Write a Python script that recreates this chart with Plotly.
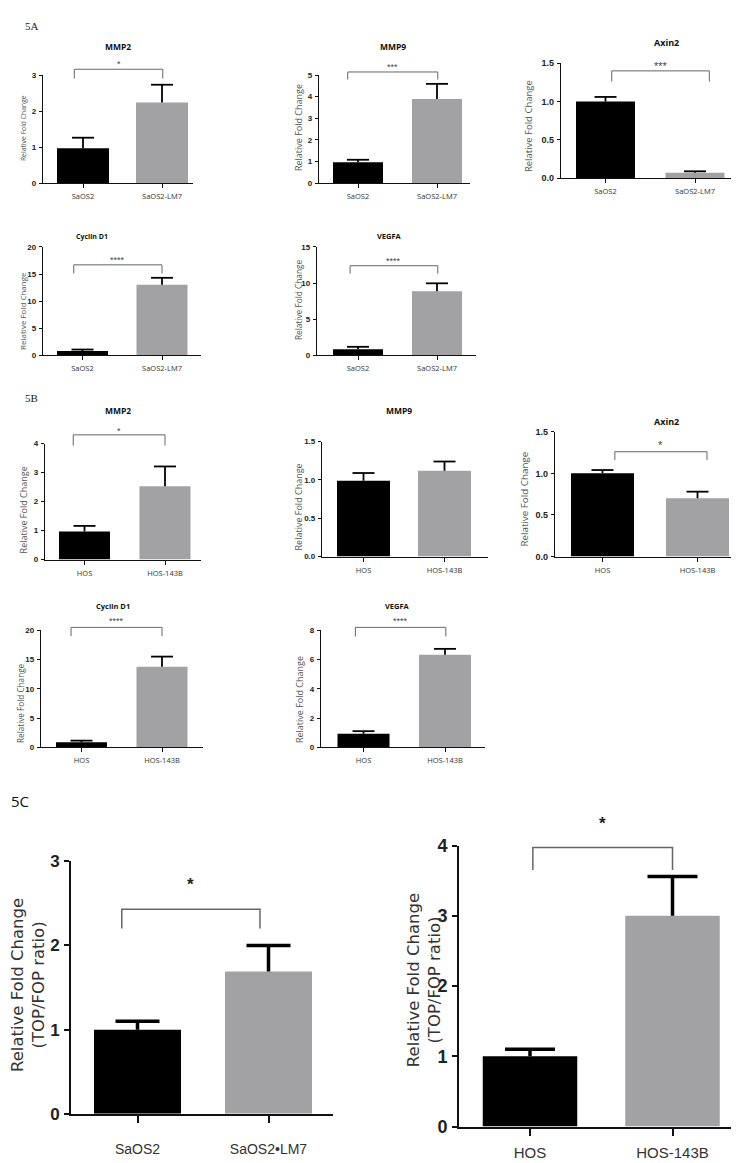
import plotly.graph_objects as go

W, H = 739, 1163

# ---------------- data ----------------
cells_a = ["SaOS2", "SaOS2-LM7"]
cells_b = ["HOS", "HOS-143B"]
genes = ["MMP2", "MMP9", "Axin2", "Cyclin D1", "VEGFA"]

a_mmp2_mean = [0.97, 2.24]
a_mmp2_sem = [0.29, 0.49]
a_mmp9_mean = [0.96, 3.89]
a_mmp9_sem = [0.12, 0.70]
a_axin2_mean = [1.00, 0.07]
a_axin2_sem = [0.06, 0.02]
a_ccnd1_mean = [0.75, 13.0]
a_ccnd1_sem = [0.28, 1.3]
a_vegfa_mean = [0.80, 8.86]
a_vegfa_sem = [0.35, 1.10]
a_sig = ["*", "***", "***", "****", "****"]

b_mmp2_mean = [0.97, 2.53]
b_mmp2_sem = [0.19, 0.68]
b_mmp9_mean = [0.99, 1.12]
b_mmp9_sem = [0.10, 0.12]
b_axin2_mean = [1.00, 0.70]
b_axin2_sem = [0.04, 0.08]
b_ccnd1_mean = [0.85, 13.75]
b_ccnd1_sem = [0.28, 1.75]
b_vegfa_mean = [0.92, 6.32]
b_vegfa_sem = [0.18, 0.41]
b_sig = ["*", "", "*", "****", "****"]

c_cells_saos = ["SaOS2", "SaOS2•LM7"]
c_saos_mean = [1.00, 1.69]
c_saos_sem = [0.10, 0.31]
c_hos_mean = [1.00, 3.00]
c_hos_sem = [0.10, 0.56]
c_sig = ["*", "*"]
c_ylabel = "Relative Fold Change<br>(TOP/FOP ratio)"
ylabel = "Relative Fold Change"

BLACK = "#000000"
GRAY = "#a2a2a5"

# ---------------- layout of panels (pixel boxes, styles) ----------------
small = dict(lw=1.3, ticklen=4, tickfs=8, catfs=7.5, errw=11, errt=1.8, bracket_w=1, starfs=9)
panels = [
    dict(cats=cells_a, mean=a_mmp2_mean, err=a_mmp2_sem, title=genes[0], tpos=(110, 29), tfs=8.5,
         sig=a_sig[0], box=(35, 185, 58, 168), ymax=3, dtick=1, fmt="d", centers=(75, 154), bw=52,
         br=(-0.11, 1.01, 3.16, 2.9, 3.3), ylab=(15, 112, 6.8), **small),
    dict(cats=cells_a, mean=a_mmp9_mean, err=a_mmp9_sem, title=genes[1], tpos=(385, 29), tfs=8.5,
         sig=a_sig[1], box=(311, 462, 58, 168), ymax=5, dtick=1, fmt="d", centers=(350, 429), bw=50,
         br=(-0.13, 1.01, 5.14, 4.79, 5.36), ylab=(290, 112, 9), **small),
    dict(cats=cells_a, mean=a_axin2_mean, err=a_axin2_sem, title=genes[2], tpos=(658, 25), tfs=9,
         sig=a_sig[2], box=(553, 730, 46, 163), ymax=1.5, dtick=0.5, fmt=".1f", centers=(597.5, 687), bw=59,
         br=(0.07, 1.16, 1.40, 1.26, 1.46), ylab=(520, 110, 9.5),
         **dict(small, tickfs=9, starfs=11)),
    dict(cats=cells_a, mean=a_ccnd1_mean, err=a_ccnd1_sem, title=genes[3], tpos=(84, 222), tfs=7,
         sig=a_sig[3], box=(35, 193, 233, 343), ymax=20, dtick=5, fmt="d", centers=(74.5, 154), bw=51,
         br=(-0.11, 1.0, 16.7, 15.1, 17.6), ylab=(15, 298, 8), **small),
    dict(cats=cells_a, mean=a_vegfa_mean, err=a_vegfa_sem, title=genes[4], tpos=(381, 222), tfs=7.5,
         sig=a_sig[4], box=(309, 468, 233, 343), ymax=15, dtick=5, fmt="d", centers=(350, 429), bw=50,
         br=(-0.1, 1.01, 12.4, 11.3, 13.0), ylab=(290, 287, 8.3), **small),
    dict(cats=cells_b, mean=b_mmp2_mean, err=b_mmp2_sem, title=genes[0], tpos=(110, 399), tfs=8.5,
         sig=b_sig[0], box=(37, 193, 433, 551), ymax=4, dtick=1, fmt="d", centers=(76.5, 157), bw=51,
         br=(-0.14, 1.0, 4.3, 3.93, 4.45), ylab=(15, 501, 9), **small),
    dict(cats=cells_b, mean=b_mmp9_mean, err=b_mmp9_sem, title=genes[1], tpos=(391, 399), tfs=8.5,
         sig=b_sig[1], box=(314, 480, 431, 548), ymax=1.5, dtick=0.5, fmt=".1f", centers=(355.5, 436.5), bw=53,
         br=None, ylab=(290, 498, 9), **small),
    dict(cats=cells_b, mean=b_axin2_mean, err=b_axin2_sem, title=genes[2], tpos=(658, 411), tfs=9,
         sig=b_sig[2], box=(547, 733, 421, 548), ymax=1.5, dtick=0.5, fmt=".1f", centers=(594.5, 689.5), bw=63,
         br=(0.13, 1.1, 1.26, 1.16, 1.34), ylab=(517, 490, 9.8),
         **dict(small, tickfs=9, starfs=11)),
    dict(cats=cells_b, mean=b_ccnd1_mean, err=b_ccnd1_sem, title=genes[3], tpos=(105, 598), tfs=7.5,
         sig=b_sig[3], box=(33, 195, 623, 742), ymax=20, dtick=5, fmt="d", centers=(73.5, 154), bw=51,
         br=(-0.13, 1.0, 20.5, 19.0, 21.6), ylab=(12, 697, 8.2), **small),
    dict(cats=cells_b, mean=b_vegfa_mean, err=b_vegfa_sem, title=genes[4], tpos=(389, 598), tfs=7.5,
         sig=b_sig[4], box=(313, 477, 623, 742), ymax=8, dtick=2, fmt="d", centers=(355.5, 437), bw=52,
         br=(-0.1, 1.01, 8.2, 7.58, 8.65), ylab=(291, 694, 9), **small),
    dict(cats=c_cells_saos, mean=c_saos_mean, err=c_saos_sem, title="", tpos=None, tfs=0,
         sig=c_sig[0], box=(63, 325, 858, 1115), ymax=3, dtick=1, fmt="d", centers=(129.5, 260.5), bw=87,
         br=(-0.12, 0.935, 2.43, 2.2, 2.72), ylab=(20, 984, 16.5), two_line=True,
         lw=2, ticklen=7, tickfs=17, catfs=14, errw=22, errt=3.5, bracket_w=1.5, starfs=17, standoff=14),
    dict(cats=cells_b, mean=c_hos_mean, err=c_hos_sem, title="", tpos=None, tfs=0,
         sig=c_sig[1], box=(451, 732, 842, 1128), ymax=4, dtick=1, fmt="d", centers=(522, 664.5), bw=94.5,
         br=(0.02, 1.0, 3.97, 3.65, 4.32), ylab=(416, 979, 16.5), two_line=True,
         lw=2, ticklen=7, tickfs=18, catfs=15, errw=25, errt=3.5, bracket_w=1.5, starfs=17, standoff=4),
]

fig = go.Figure()
layout = dict(
    width=W, height=H, margin=dict(l=0, r=0, t=0, b=0),
    paper_bgcolor="white", plot_bgcolor="white", showlegend=False,
    shapes=[], annotations=[],
)

for i, p in enumerate(panels, start=1):
    x0, x1, yt, yb = p["box"]
    c0, c1 = p["centers"]
    unit = c1 - c0
    xr0 = (x0 - c0) / unit
    xr1 = 1 + (x1 - c1) / unit
    ax = "" if i == 1 else str(i)

    def px_x(v, xr0=xr0, xr1=xr1, x0=x0, x1=x1):
        return (x0 + (v - xr0) / (xr1 - xr0) * (x1 - x0)) / W

    def px_y(v, yt=yt, yb=yb, ymax=p["ymax"]):
        return 1 - (yb - v / ymax * (yb - yt)) / H

    # bars with the upper error stem (no caps)
    fig.add_trace(go.Bar(
        x=p["cats"], y=p["mean"], width=p["bw"] / unit,
        marker=dict(color=[BLACK, GRAY], line=dict(width=0)),
        error_y=dict(type="data", symmetric=False, array=p["err"], arrayminus=[0, 0],
                     color="#000000", thickness=p["errt"], width=0),
        xaxis="x" + ax, yaxis="y" + ax, hoverinfo="skip",
    ))
    # caps only at the top of the error bars
    tops = [m + e for m, e in zip(p["mean"], p["err"])]
    fig.add_trace(go.Scatter(
        x=p["cats"], y=tops, mode="markers", cliponaxis=False,
        marker=dict(symbol="line-ew", size=2 * p["errw"] / 1.4, color="#000000",
                    line=dict(width=p["errt"], color="#000000")),
        xaxis="x" + ax, yaxis="y" + ax, hoverinfo="skip",
    ))

    big = p.get("two_line", False)
    family_tick = "Liberation Sans Narrow, Arial, sans-serif" if big else "Arial, Liberation Sans, sans-serif"
    layout["xaxis" + ax] = dict(
        domain=[x0 / W, x1 / W], range=[xr0, xr1], type="category",
        categoryorder="array", categoryarray=p["cats"], anchor="y" + ax,
        showline=True, linecolor="#111", linewidth=p["lw"], mirror=False,
        ticks="outside", ticklen=p["ticklen"], tickwidth=p["lw"], tickcolor="#111",
        tickfont=dict(size=p["catfs"], color="#333",
                      family="Liberation Sans Narrow, Arial, sans-serif" if big else "Open Sans, Arial, sans-serif"),
        ticklabelstandoff=p.get("standoff", 2),
        showgrid=False, zeroline=False, fixedrange=True,
    )
    layout["yaxis" + ax] = dict(
        domain=[1 - yb / H, 1 - yt / H], range=[0, p["ymax"]], anchor="x" + ax,
        dtick=p["dtick"], tick0=0, tickformat=p["fmt"],
        showline=True, linecolor="#111", linewidth=p["lw"],
        ticks="outside", ticklen=p["ticklen"] - (1 if not big else 2), tickwidth=p["lw"], tickcolor="#111",
        tickfont=dict(size=p["tickfs"], color="#222", family=family_tick, weight="bold"),
        ticklabelstandoff=1,
        showgrid=False, zeroline=False, fixedrange=True,
    )

    if p["title"]:
        tx, ty = p["tpos"]
        layout["annotations"].append(dict(
            x=tx / W, y=1 - ty / H, xref="paper", yref="paper", text="<b>%s</b>" % p["title"],
            showarrow=False, xanchor="center", yanchor="middle",
            font=dict(size=p["tfs"], color="#111", family="Open Sans, Arial, sans-serif")))

    lx, ly, lfs = p["ylab"]
    layout["annotations"].append(dict(
        x=lx / W, y=1 - ly / H, xref="paper", yref="paper",
        text=c_ylabel if big else ylabel, textangle=-90, showarrow=False,
        xanchor="center", yanchor="middle",
        font=dict(size=lfs, color="#333" if big else "#555",
                  family="DejaVu Sans, Verdana, sans-serif" if big else "Open Sans, Arial, sans-serif")))

    if p["br"] is not None and p["sig"]:
        xa, xb, ybar, yend, ystar = p["br"]
        path = "M{:.5f},{:.5f} L{:.5f},{:.5f} L{:.5f},{:.5f} L{:.5f},{:.5f}".format(
            px_x(xa), px_y(yend), px_x(xa), px_y(ybar), px_x(xb), px_y(ybar), px_x(xb), px_y(yend))
        layout["shapes"].append(dict(type="path", path=path, xref="paper", yref="paper",
                                     line=dict(color="#666", width=p["bracket_w"])))
        layout["annotations"].append(dict(
            x=px_x((xa + xb) / 2), y=px_y(ystar), xref="paper", yref="paper",
            text=p["sig"], showarrow=False, xanchor="center", yanchor="middle",
            font=dict(size=p["starfs"], color="#222" if big else "#444",
                      family="Arial, sans-serif", weight="bold" if big else "normal")))

# panel letters
layout["annotations"].append(dict(x=24 / W, y=1 - 8 / H, xref="paper", yref="paper", text="5A",
                                  showarrow=False, xanchor="center", yanchor="middle",
                                  font=dict(size=11, color="#222", family="Liberation Serif, Times New Roman, serif")))
layout["annotations"].append(dict(x=23 / W, y=1 - 387 / H, xref="paper", yref="paper", text="5B",
                                  showarrow=False, xanchor="center", yanchor="middle",
                                  font=dict(size=11, color="#222", family="Liberation Serif, Times New Roman, serif")))
layout["annotations"].append(dict(x=12 / W, y=1 - 797 / H, xref="paper", yref="paper", text="5C",
                                  showarrow=False, xanchor="center", yanchor="middle",
                                  font=dict(size=15, color="#111", family="Open Sans, Arial, sans-serif")))

fig.update_layout(**layout)
fig.write_html("out.html")
